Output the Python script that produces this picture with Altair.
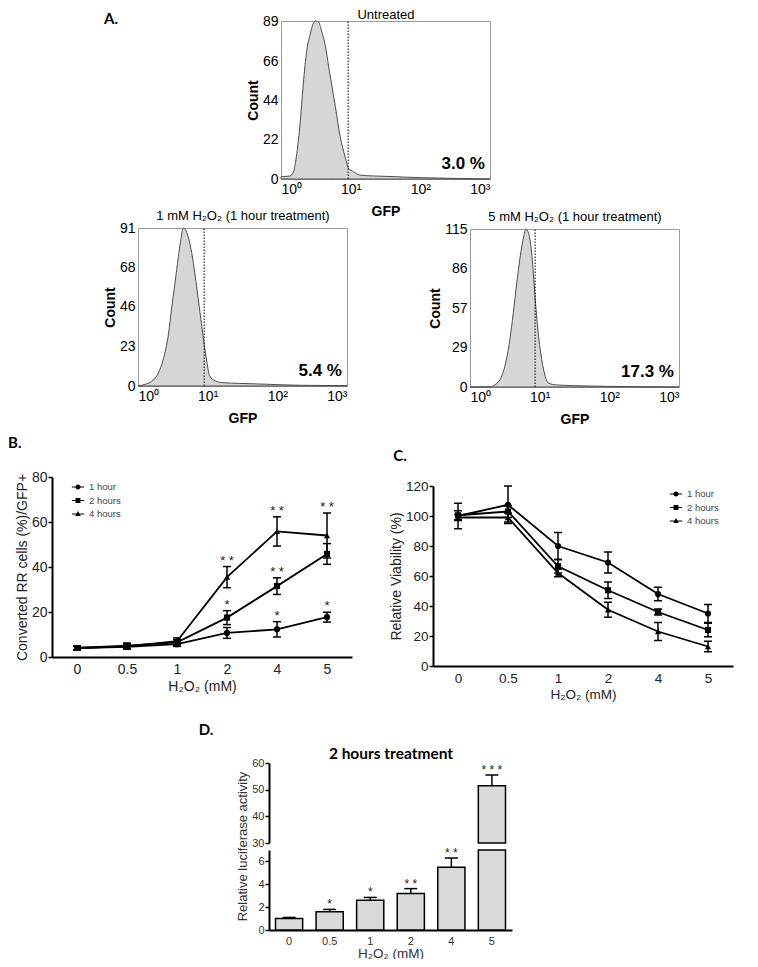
import altair as alt
import pandas as pd

W, H = 742, 951
FONT = "Liberation Sans"
HEAD_FONT = "Lato"

# ---------------- Panel A: GFP histograms ----------------
HIST_TITLES = ["Untreated", "1 mM H₂O₂ (1 hour treatment)", "5 mM H₂O₂ (1 hour treatment)"]
HIST_PCT = ["3.0 %", "5.4 %", "17.3 %"]
HIST_GATE = [9.2, 8.9, 8.6]
HIST_YMAX = [89, 91, 115]
HIST_YTICKS = [[0, 22, 44, 66, 89], [0, 23, 46, 68, 91], [0, 29, 57, 86, 115]]
GFP_TICKS = [1, 10, 100, 1000]

GFP_UNTREATED = [1.0, 1.35, 1.51, 1.66, 1.86, 2.09, 2.34, 2.63, 2.88, 3.16, 3.47, 3.80, 4.27,
                 5.01, 6.03, 7.08, 8.32, 9.33, 11.0, 13.5, 21.4, 45.7, 57.5, 110, 269, 1000]
COUNT_UNTREATED = [1.3, 1.7, 4.1, 12.5, 29.4, 53.6, 72.3, 81.7, 87.3, 89.0, 88.4, 83.7, 76.2,
                   59.4, 40.8, 23.8, 12.5, 6.0, 4.1, 2.2, 1.7, 1.3, 1.1, 0.7, 0.4, 0.0]
GFP_1MM = [1.0, 1.32, 1.66, 1.95, 2.29, 2.75, 3.02, 3.39, 3.80, 4.07, 4.47, 5.01, 5.89, 6.92,
           7.76, 8.71, 9.77, 10.7, 12.9, 16.6, 28.8, 70.8, 214, 1000]
COUNT_1MM = [0.2, 1.2, 3.5, 7.3, 15.0, 30.4, 43.8, 59.2, 74.6, 83.0, 91.0, 88.5, 76.9, 57.7,
             42.3, 26.9, 13.5, 5.8, 2.9, 1.9, 1.5, 1.0, 0.4, 0.2]
GFP_5MM = [1.0, 1.95, 2.29, 2.69, 3.16, 3.72, 4.17, 4.68, 5.25, 5.89, 6.31, 6.92, 7.76, 8.51,
           9.55, 10.7, 12.0, 13.2, 17.4, 30.2, 91.2, 275, 1000]
COUNT_5MM = [0.0, 0.2, 1.7, 5.3, 15.0, 34.0, 53.4, 75.2, 94.7, 109.2, 115.0, 112.0, 95.0, 68.0,
             39.0, 20.0, 7.8, 2.9, 1.5, 1.0, 0.5, 0.2, 0.0]

# ---------------- Panels B and C ----------------
DOSES = ["0", "0.5", "1", "2", "4", "5"]
SERIES = ["1 hour", "2 hours", "4 hours"]
SHAPES = ["circle", "square", "triangle-up"]
# legend glyphs: short line with the marker on it (all sub-paths clockwise)
LEGEND_SHAPES = [
    "M-1,-0.1H1V0.1H-1ZM0.42,0A0.42,0.42,0,1,1,-0.42,0A0.42,0.42,0,1,1,0.42,0Z",
    "M-1,-0.1H1V0.1H-1ZM-0.4,-0.4H0.4V0.4H-0.4Z",
    "M-1,-0.1H1V0.1H-1ZM0,-0.5L0.46,0.32H-0.46Z",
]

B_MEAN = [
    [4.0, 4.5, 5.7, 10.7, 12.3, 17.7],
    [4.0, 5.0, 6.5, 17.5, 31.5, 45.8],
    [4.0, 4.7, 7.0, 35.5, 55.8, 54.0],
]
B_ERR = [
    [1.0, 1.0, 1.0, 2.4, 3.4, 2.2],
    [1.0, 1.2, 1.2, 3.1, 3.7, 4.6],
    [1.0, 1.0, 1.5, 4.7, 6.5, 10.0],
]
B_STAR_DOSE = ["2", "2", "4", "4", "4", "5", "5"]
B_STAR_SERIES = ["4 hours", "2 hours", "4 hours", "2 hours", "1 hour", "4 hours", "1 hour"]
B_STAR_TEXT = ["**", "*", "**", "**", "*", "**", "*"]

C_MEAN = [
    [100.0, 107.5, 80.0, 69.0, 48.0, 35.0],
    [100.5, 103.0, 66.5, 50.5, 36.0, 24.0],
    [99.0, 99.0, 62.0, 37.5, 23.0, 13.0],
]
C_ERR = [
    [8.5, 12.5, 9.0, 7.0, 4.5, 6.0],
    [3.0, 4.0, 4.5, 5.5, 2.0, 4.5],
    [2.0, 3.0, 2.5, 5.0, 6.0, 3.5],
]

# ---------------- Panel D ----------------
D_MEAN = [1.0, 1.6, 2.6, 3.2, 5.5, 51.5]
D_ERR = [0.1, 0.2, 0.25, 0.42, 0.8, 4.0]
D_STARS = ["", "*", "*", "**", "**", "***"]
D_LOW_DOMAIN = [0, 7]
D_UP_DOMAIN = [30, 60]
D_LOW_TICKS = [0, 2, 4, 6]
D_UP_TICKS = [30, 40, 50, 60]

# ---------------- layout (pixels inside the view) ----------------
HIST_BOX = [(273, 482, 171, 13), (130, 339, 378, 220), (462, 671, 379, 221)]
HIST_TITLE_DY = [-7, -13, -13]
HIST_YTITLE_DX = [-28, -28, -35]
B_BOX = (44, 344, 649, 469)
C_BOX = (425, 725, 658, 478)
D_X = (261, 504)
D_LOW_Y = (922, 842)
D_UP_Y = (835, 755)


def hist_panel(i, gfp, cnt):
    x0, x1, yb, yt = HIST_BOX[i]
    xs = alt.Scale(type="log", domain=[1, 1000], range=[x0, x1])
    ys = alt.Scale(domain=[0, HIST_YMAX[i]], range=[yb, yt], nice=False)
    frame = dict(domainColor="#9a9a9a", domainWidth=1, ticks=False, grid=False)
    xax = alt.Axis(orient="bottom", offset=yb - H, values=GFP_TICKS,
                   labelExpr="'10' + ['⁰','¹','²','³'][round(log(datum.value)/LN10)]",
                   labelFont=FONT, labelFontSize=14, labelPadding=3, labelColor="black",
                   title="GFP", titleFont=FONT, titleFontWeight="bold", titleFontSize=14,
                   titleY=32, titleBaseline="middle", titleColor="black", **frame)
    yax = alt.Axis(orient="left", offset=-x0, values=HIST_YTICKS[i],
                   labelFont=FONT, labelFontSize=14, labelPadding=3, labelColor="black",
                   title="Count", titleFont=FONT, titleFontWeight="bold", titleFontSize=14,
                   titleX=HIST_YTITLE_DX[i], titleBaseline="middle", titleColor="black", **frame)
    df = pd.DataFrame({"gfp": gfp, "count": cnt})
    area = alt.Chart(df).mark_area(interpolate="monotone", fill="#d6d6d6", stroke="#4d4d4d",
                                   strokeWidth=1).encode(
        x=alt.X("gfp:Q", scale=xs, axis=xax),
        y=alt.Y("count:Q", scale=ys, axis=yax),
    )
    topax = alt.Axis(orient="top", offset=-yt, labels=False, title=HIST_TITLES[i],
                     titleFont=FONT, titleFontWeight="normal", titleFontSize=13,
                     titleY=HIST_TITLE_DY[i], titleBaseline="middle", titleColor="black", **frame)
    rightax = alt.Axis(orient="right", offset=x1 - W, labels=False, title=None, **frame)
    gate = alt.Chart(pd.DataFrame({"gate": [HIST_GATE[i]]})).mark_rule(
        color="black", strokeDash=[1.5, 1.5], strokeWidth=1).encode(
        x=alt.X("gate:Q", scale=xs, axis=topax),
        y=alt.YDatum(0, type="quantitative", scale=ys, axis=rightax),
        y2=alt.Y2Datum(HIST_YMAX[i]),
    )
    pct = alt.Chart(pd.DataFrame({"pct": [HIST_PCT[i]]})).mark_text(
        align="right", baseline="middle", font=FONT, fontWeight="bold", fontSize=17,
        color="black").encode(
        x=alt.value(x1 - 5), y=alt.value(yb - 15), text="pct:N")
    return [area, gate, pct]


def line_panel(means, errs, box, ydomain, yticks, ytitle, ytitle_dx, xtitle_dy,
               legend_xy, fs, stars=None):
    x0, x1, yb, yt = box
    rows = []
    for s, mlist, elist in zip(SERIES, means, errs):
        for d, m, e in zip(DOSES, mlist, elist):
            rows.append({"dose": d, "series": s, "mean": m, "lo": m - e, "hi": m + e})
    df = pd.DataFrame(rows)
    xs = alt.Scale(type="point", domain=DOSES, range=[x0, x1], padding=0.5)
    ys = alt.Scale(domain=ydomain, range=[yb, yt], nice=False)
    xax = alt.Axis(orient="bottom", offset=yb - H, ticks=False, domainColor="black",
                   domainWidth=2, labelFont=FONT, labelFontSize=fs, labelPadding=5,
                   labelColor="#222", labelAngle=0, title="H₂O₂ (mM)", titleFont=FONT,
                   titleFontSize=fs, titleFontWeight="normal", titleY=xtitle_dy,
                   titleBaseline="middle", titleColor="#222", grid=False)
    yax = alt.Axis(orient="left", offset=-x0, values=yticks, domainColor="black",
                   domainWidth=2, tickColor="black", tickWidth=1.5, tickSize=4,
                   labelFont=FONT, labelFontSize=fs, labelPadding=1, labelColor="#222",
                   title=ytitle, titleFont=FONT, titleFontSize=14,
                   titleFontWeight="normal", titleX=ytitle_dx, titleBaseline="middle",
                   titleColor="#222", grid=False)
    X = alt.X("dose:N", scale=xs, axis=None)
    base = alt.Chart(df)
    err = base.mark_rule(color="black", strokeWidth=1.5).encode(
        x=X, y=alt.Y("lo:Q", scale=ys, axis=None), y2="hi:Q")
    cap_hi = base.mark_tick(color="black", size=8, thickness=1.5, opacity=1).encode(
        x=X, y=alt.Y("hi:Q", scale=ys, axis=None))
    cap_lo = base.mark_tick(color="black", size=8, thickness=1.5, opacity=1).encode(
        x=X, y=alt.Y("lo:Q", scale=ys, axis=None))
    line = base.mark_line(color="black", strokeWidth=1.8).encode(
        x=alt.X("dose:N", scale=xs, axis=xax),
        y=alt.Y("mean:Q", scale=ys, axis=yax),
        detail="series:N")
    pts = base.mark_point(filled=True, color="black", size=38, opacity=1).encode(
        x=X, y=alt.Y("mean:Q", scale=ys, axis=None),
        shape=alt.Shape("series:N", scale=alt.Scale(domain=SERIES, range=SHAPES), legend=None))
    leg = base.transform_filter("false").mark_point(
        filled=True, color="black", opacity=1).encode(
        x=X, y=alt.Y("mean:Q", scale=ys, axis=None),
        shape=alt.Shape("series:N", scale=alt.Scale(domain=SERIES, range=LEGEND_SHAPES),
                        legend=alt.Legend(orient="none", legendX=legend_xy[0],
                                          legendY=legend_xy[1], title=None,
                                          labelFont=FONT, labelFontSize=9.5,
                                          labelColor="#444", symbolSize=150,
                                          symbolFillColor="black", symbolOpacity=1,
                                          rowPadding=0.5, padding=0, labelOffset=4)))
    layers = [err, cap_hi, cap_lo, line, pts, leg]
    if stars is not None:
        sdose, sseries, stext = stars
        hi_lookup = {(r["dose"], r["series"]): r["hi"] for r in rows}
        sdf = pd.DataFrame({"dose": sdose, "series": sseries, "stars": stext,
                            "hi": [hi_lookup[(d, s)] for d, s in zip(sdose, sseries)]})
        st = alt.Chart(sdf).transform_calculate(
            lbl="join(split(datum.stars, ''), ' ')").mark_text(
            font=FONT, fontSize=13, baseline="alphabetic", dy=-2, color="#222").encode(
            x=X, y=alt.Y("hi:Q", scale=ys, axis=None), text="lbl:N")
        layers.append(st)
    return layers


def bar_panel():
    df = pd.DataFrame({"dose": DOSES, "val": D_MEAN, "err": D_ERR, "stars": D_STARS})
    df["hi"] = df["val"] + df["err"]
    xs = alt.Scale(type="band", domain=DOSES, range=list(D_X), paddingInner=0.33,
                   paddingOuter=0.16)
    ylo = alt.Scale(domain=D_LOW_DOMAIN, range=list(D_LOW_Y), nice=False, clamp=True)
    yup = alt.Scale(domain=D_UP_DOMAIN, range=list(D_UP_Y), nice=False, zero=False)
    common_y = dict(domainColor="black", domainWidth=2, tickColor="black", tickWidth=1.5,
                    tickSize=4, labelFont=FONT, labelFontSize=11, labelPadding=1,
                    labelColor="#333", grid=False)
    ylo_ax = alt.Axis(orient="left", offset=-D_X[0], values=D_LOW_TICKS,
                      title="Relative luciferase activity", titleFont=FONT, titleFontSize=13,
                      titleFontWeight="normal", titleX=-27, titleY=838,
                      titleBaseline="middle", titleColor="#333", **common_y)
    yup_ax = alt.Axis(orient="left", offset=-D_X[0], values=D_UP_TICKS, title=None, **common_y)
    xbot = alt.Axis(orient="bottom", offset=D_LOW_Y[0] - H, ticks=False, domainColor="black",
                    domainWidth=2, labelFont=FONT, labelFontSize=11, labelPadding=5,
                    labelColor="#333", labelAngle=0, title="H₂O₂ (mM)", titleFont=FONT,
                    titleFontSize=13.5, titleFontWeight="normal", titleY=23,
                    titleBaseline="middle", titleColor="#333", grid=False)
    xtop = alt.Axis(orient="top", offset=-D_UP_Y[1], domain=False, ticks=False, labels=False,
                    title="2 hours treatment", titleFont=HEAD_FONT, titleFontSize=15.5,
                    titleFontWeight="bold", titleY=-10, titleBaseline="middle",
                    titleColor="black", grid=False)
    X = alt.X("dose:N", scale=xs, axis=None)
    base = alt.Chart(df)
    bars_lo = base.mark_bar(fill="#d9d9d9", stroke="black", strokeWidth=1.5).encode(
        x=alt.X("dose:N", scale=xs, axis=xbot),
        y=alt.Y("val:Q", scale=ylo, axis=ylo_ax), y2=alt.Y2Datum(0))
    bars_up = base.transform_filter(f"datum.val > {D_UP_DOMAIN[0]}").mark_bar(
        fill="#d9d9d9", stroke="black", strokeWidth=1.5).encode(
        x=alt.X("dose:N", scale=xs, axis=xtop),
        y=alt.Y("val:Q", scale=yup, axis=yup_ax), y2=alt.Y2Datum(D_UP_DOMAIN[0]))
    layers = [bars_lo, bars_up]
    for flt, ys in ((f"datum.hi <= {D_LOW_DOMAIN[1]}", ylo), (f"datum.val > {D_UP_DOMAIN[0]}", yup)):
        sub = base.transform_filter(flt)
        layers.append(sub.mark_rule(color="black", strokeWidth=1.5).encode(
            x=X, y=alt.Y("val:Q", scale=ys, axis=None), y2="hi:Q"))
        layers.append(sub.mark_tick(color="black", size=13, thickness=1.5, opacity=1).encode(
            x=X, y=alt.Y("hi:Q", scale=ys, axis=None)))
        layers.append(sub.transform_filter("datum.stars != ''").transform_calculate(
            lbl="join(split(datum.stars, ''), ' ')").mark_text(
            font=FONT, fontSize=12, baseline="alphabetic", dy=-1, color="#222").encode(
            x=X, y=alt.Y("hi:Q", scale=ys, axis=None), text="lbl:N"))
    return layers


def letter(txt, x, y, align="center"):
    return alt.Chart(pd.DataFrame({"t": [txt]})).mark_text(
        font=HEAD_FONT, fontWeight="bold", fontSize=15, align=align, baseline="middle",
        color="black").encode(text="t:N", x=alt.value(x), y=alt.value(y))


layers = []
layers += hist_panel(0, GFP_UNTREATED, COUNT_UNTREATED)
layers += hist_panel(1, GFP_1MM, COUNT_1MM)
layers += hist_panel(2, GFP_5MM, COUNT_5MM)
layers += line_panel(B_MEAN, B_ERR, B_BOX, [0, 80], [0, 20, 40, 60, 80],
                     "Converted RR cells (%)/GFP+", -30, 29, (63, 472), 14,
                     stars=(B_STAR_DOSE, B_STAR_SERIES, B_STAR_TEXT))
layers += line_panel(C_MEAN, C_ERR, C_BOX, [0, 120], [0, 20, 40, 60, 80, 100, 120],
                     "Relative Viability (%)", -37, 28, (661, 479), 13.5)
layers += bar_panel()
layers += [letter("A.", 103, 11), letter("B.", 0, 435, "left"),
           letter("C.", 392, 448), letter("D.", 198, 722)]

chart = alt.layer(*layers).resolve_scale(
    x="independent", y="independent", shape="independent"
).resolve_axis(x="independent", y="independent").resolve_legend(
    shape="independent"
).properties(
    width=W, height=H, autosize=alt.AutoSizeParams(type="none"), padding=0
).configure_view(stroke=None)

chart.save("out.html", embed_options={"renderer": "svg", "actions": False})
